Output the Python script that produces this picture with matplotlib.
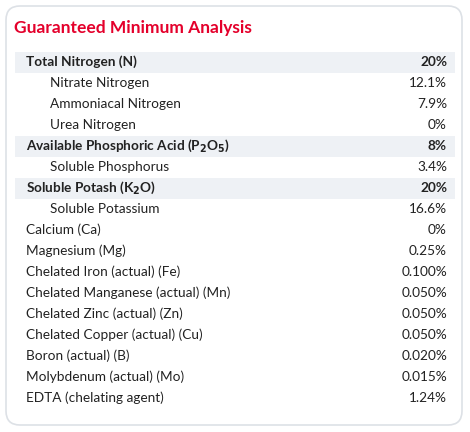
import matplotlib.pyplot as plt
from matplotlib.patches import FancyBboxPatch, Rectangle

title = "Guaranteed Minimum Analysis"
labels = ["Total Nitrogen (N)", "Nitrate Nitrogen", "Ammoniacal Nitrogen", "Urea Nitrogen",
          r"Available Phosphoric Acid (P$_\mathbf{2}$O$_\mathbf{5}$)", "Soluble Phosphorus",
          r"Soluble Potash (K$_\mathbf{2}$O)", "Soluble Potassium", "Calcium (Ca)", "Magnesium (Mg)",
          "Chelated Iron (actual) (Fe)", "Chelated Manganese (actual) (Mn)",
          "Chelated Zinc (actual) (Zn)", "Chelated Copper (actual) (Cu)",
          "Boron (actual) (B)", "Molybdenum (actual) (Mo)", "EDTA (chelating agent)"]
values = ["20%", "12.1%", "7.9%", "0%", "8%", "3.4%", "20%", "16.6%", "0%", "0.25%",
          "0.100%", "0.050%", "0.050%", "0.050%", "0.020%", "0.015%", "1.24%"]
bold = [True, False, False, False, True, False, True, False, False, False,
        False, False, False, False, False, False, False]
indent = [False, True, True, True, False, True, False, True, False, False,
          False, False, False, False, False, False, False]

plt.rcParams['font.family'] = ['Lato', 'DejaVu Sans']
plt.rcParams['mathtext.fontset'] = 'dejavusans'

W, H = 470, 432
fig = plt.figure(figsize=(W / 100, H / 100), dpi=100)
ax = fig.add_axes([0, 0, 1, 1])
ax.set_xlim(0, W)
ax.set_ylim(H, 0)
ax.axis('off')

ax.add_patch(FancyBboxPatch((6, 6), 456, 419, boxstyle="round,pad=0,rounding_size=14",
                            fc='white', ec='#dde1e6', lw=1.2))
ax.text(14, 28, title, color='#e4002b', fontsize=12.5, fontweight='bold', va='center')

y0, dy = 62, 21
text_c = '#222222'
for i, (lab, val) in enumerate(zip(labels, values)):
    y = y0 + i * dy
    if bold[i]:
        ax.add_patch(Rectangle((15, y - 10.5), 440, 21, fc='#eef1f5', ec='none'))
    fw = 'bold' if bold[i] else 'normal'
    x = 50 if indent[i] else 26
    ax.text(x, y, lab, color=text_c, fontsize=9.8, fontweight=fw, va='center')
    ax.text(447, y, val, color=text_c, fontsize=9.8, fontweight=fw, va='center', ha='right')

fig.savefig('out.png', dpi=100)
